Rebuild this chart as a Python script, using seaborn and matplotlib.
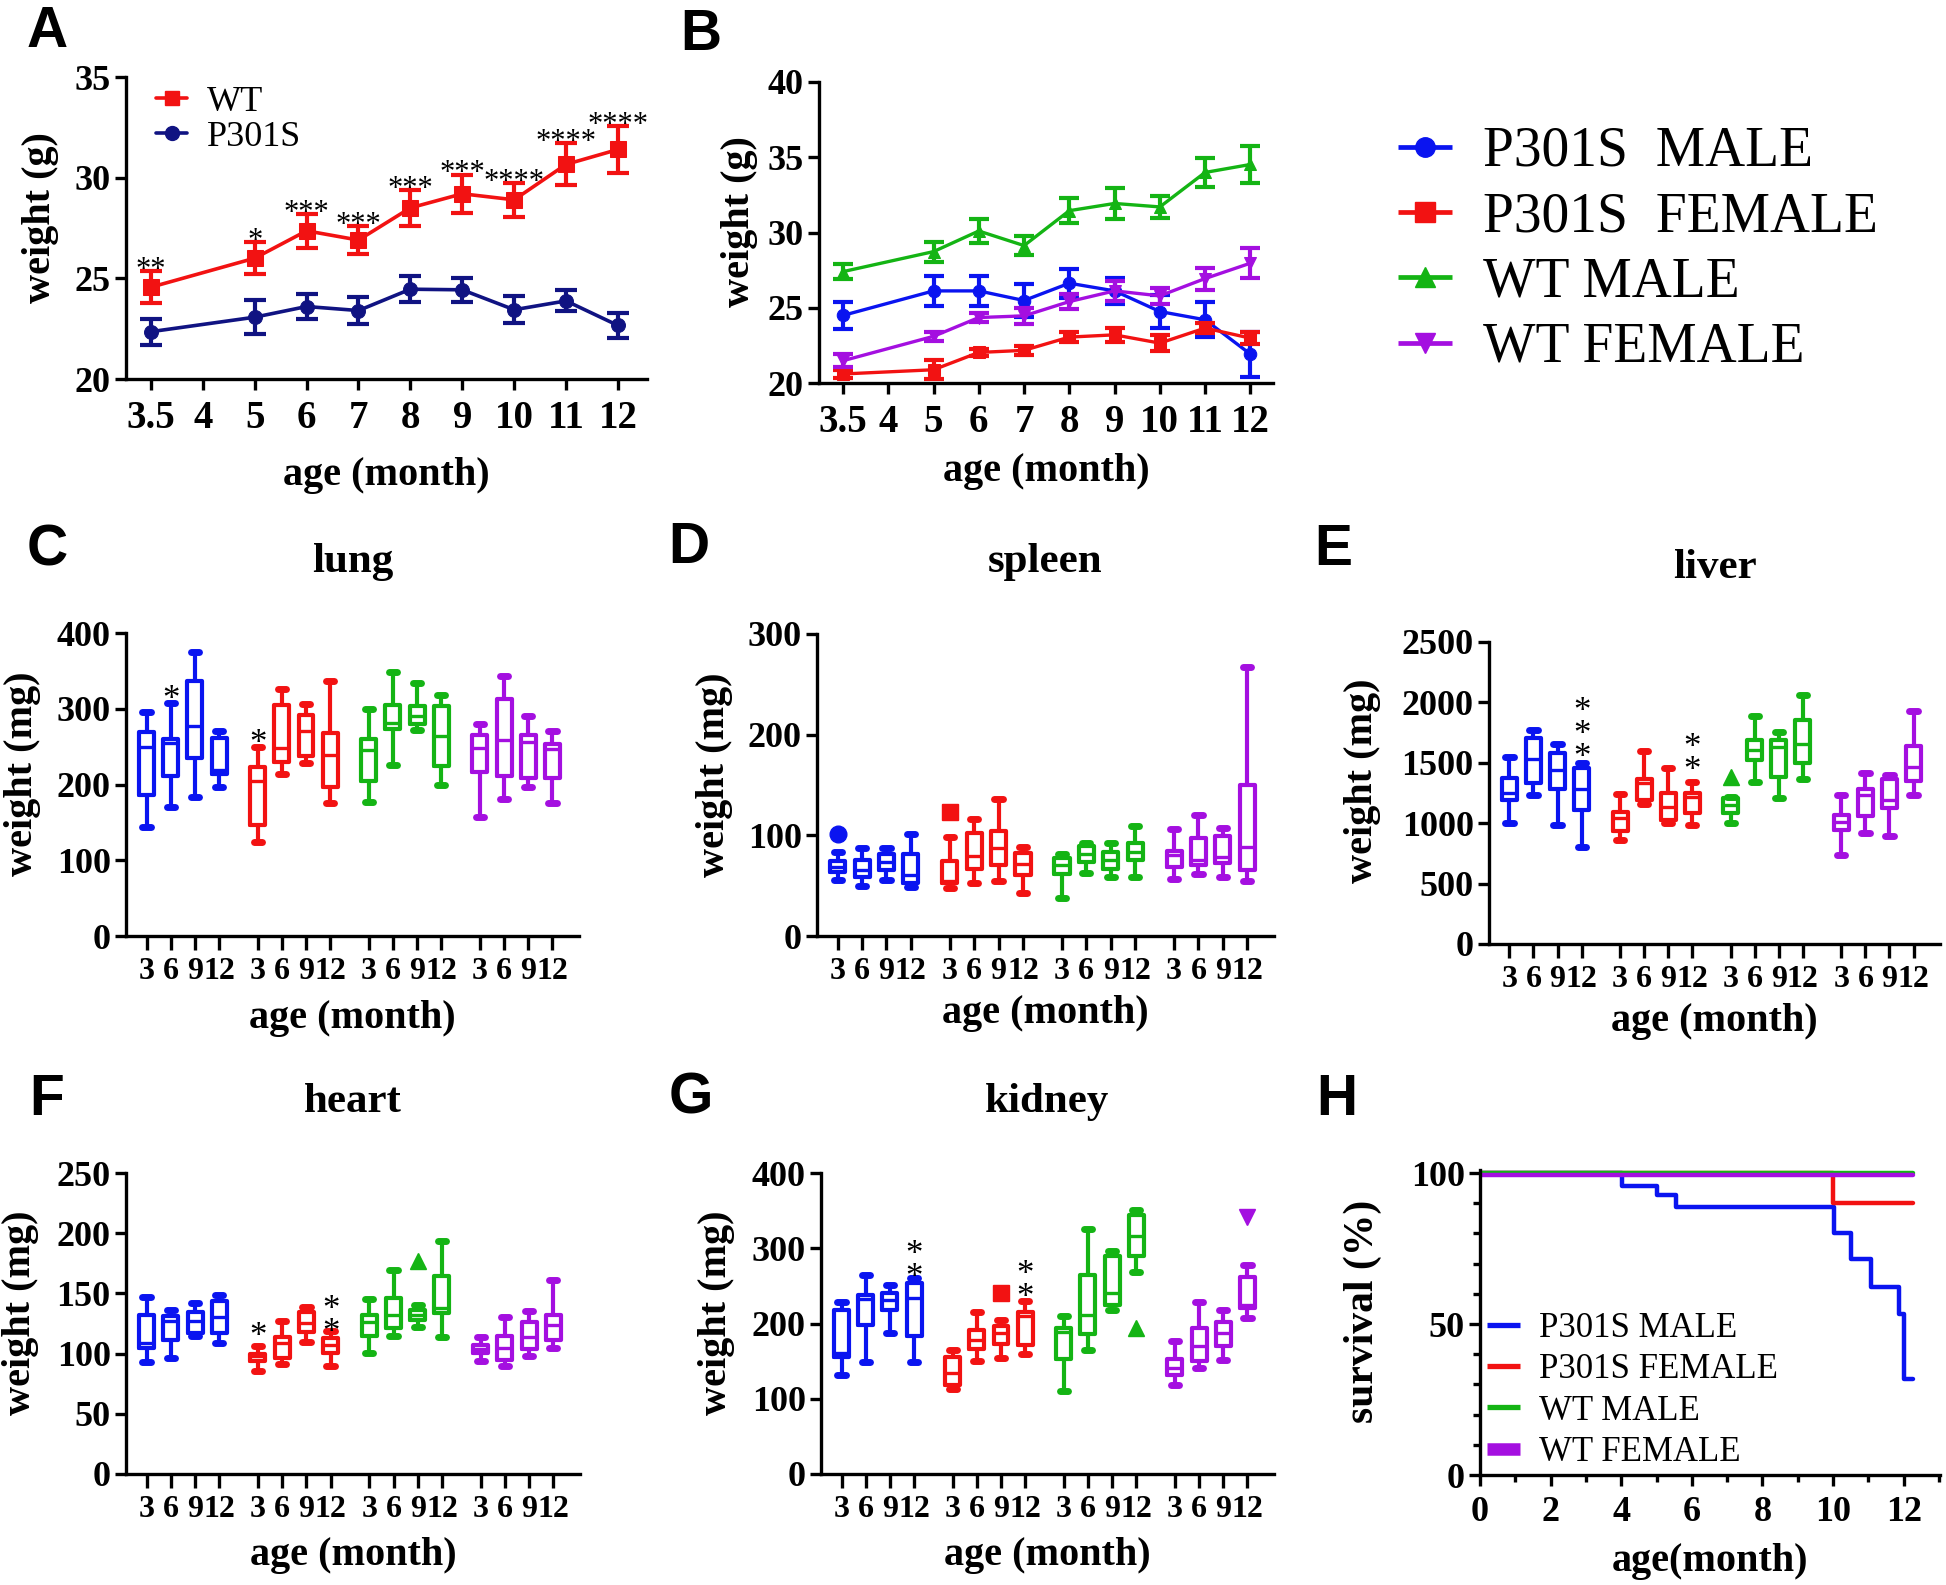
import numpy as np
import pandas as pd
import matplotlib
matplotlib.use("Agg")
import matplotlib.pyplot as plt
from matplotlib import transforms
from matplotlib.lines import Line2D
from matplotlib.ticker import MultipleLocator
import seaborn as sns

# ---------------- data ----------------
# Panel A / B : body weight (mean +/- SEM)
time_labels = ['3.5', '4', '5', '6', '7', '8', '9', '10', '11', '12']
months = ['3.5', '5', '6', '7', '8', '9', '10', '11', '12']

wt_mean = [24.56, 26.0, 27.36, 26.9, 28.5, 29.2, 28.9, 30.66, 31.4]
wt_sem = [0.78, 0.8, 0.84, 0.7, 0.9, 0.95, 0.85, 1.04, 1.16]
p301s_mean = [22.35, 23.07, 23.6, 23.4, 24.46, 24.43, 23.44, 23.88, 22.66]
p301s_sem = [0.65, 0.83, 0.6, 0.67, 0.64, 0.61, 0.66, 0.52, 0.64]
wt_stars = ['**', '*', '***', '***', '***', '***', '****', '****', '****']

groups = ['P301S  MALE', 'P301S  FEMALE', 'WT MALE', 'WT FEMALE']
b_p301s_male = [24.49, 26.12, 26.12, 25.48, 26.63, 26.12, 24.75, 24.2, 21.92]
b_p301s_male_sem = [0.88, 1.02, 0.98, 1.11, 0.97, 0.88, 1.11, 1.15, 1.5]
b_p301s_female = [20.6, 20.88, 22.03, 22.17, 23.05, 23.2, 22.65, 23.65, 22.98]
b_p301s_female_sem = [0.28, 0.62, 0.22, 0.31, 0.33, 0.45, 0.55, 0.35, 0.42]
b_wt_male = [27.4, 28.73, 30.1, 29.13, 31.45, 31.93, 31.7, 33.99, 34.52]
b_wt_male_sem = [0.5, 0.67, 0.8, 0.64, 0.82, 1.0, 0.74, 0.99, 1.21]
b_wt_female = [21.48, 23.1, 24.35, 24.46, 25.41, 26.12, 25.79, 26.94, 27.96]
b_wt_female_sem = [0.42, 0.3, 0.29, 0.51, 0.49, 0.68, 0.55, 0.73, 0.99]

# Panels C-G : organ weights (whisker low, Q1, median, Q3, whisker high) at 3, 6, 9, 12 months
organ_ages = ['3', '6', '9', '12']
lung = {
    'P301S  MALE':   [(144.5, 186, 249, 269, 295.6), (170, 211.5, 254.6, 259.5, 307), (184, 235, 277.5, 336.6, 375), (197, 213.7, 219, 260.8, 270)],
    'P301S  FEMALE': [(124.7, 146.7, 204, 223, 250), (214, 230, 248, 305, 326), (228, 238, 270, 292, 306), (175, 196.5, 239, 268, 337)],
    'WT MALE':       [(177.5, 205, 246, 260, 299.6), (226, 273, 281, 305, 348), (272, 280, 290, 303, 334), (199.6, 223.8, 264, 304, 317.6)],
    'WT FEMALE':     [(157, 217, 247.6, 264.7, 280), (180.6, 211.5, 259, 312.8, 342.7), (197, 208, 255.5, 264.7, 290), (175, 209, 247, 253, 271)],
}
spleen = {
    'P301S  MALE':   [(55.6, 64, 69, 74.5, 83), (50, 59, 65.6, 75.5, 87), (55.6, 65.6, 74, 81, 87.7), (49, 52.3, 60.6, 81, 101)],
    'P301S  FEMALE': [(47.4, 52.3, 55, 74.5, 98), (53, 67, 79, 102, 116), (55, 70.5, 87, 104, 136), (43, 61, 72, 82, 88.7)],
    'WT MALE':       [(37.4, 62, 70.5, 77, 81), (63, 74, 81, 89.4, 92), (59, 66.6, 75.5, 83.8, 92.7), (59, 75.5, 83.8, 92, 109)],
    'WT FEMALE':     [(56.6, 69, 80.5, 84.4, 106), (61.6, 70.5, 75.5, 97.7, 120.5), (59, 73, 78.8, 99.3, 107.6), (55, 66, 88.7, 150, 267.5)],
}
liver = {
    'P301S  MALE':   [(998, 1191, 1251, 1375, 1549), (1232, 1334, 1535, 1709, 1770), (984, 1279, 1444, 1577, 1659), (805, 1108, 1279, 1458, 1499)],
    'P301S  FEMALE': [(865, 937, 1039, 1094, 1240), (1163, 1196, 1329, 1370, 1599), (1003, 1025, 1136, 1251, 1458), (984, 1086, 1213, 1251, 1342)],
    'WT MALE':       [(1003, 1086, 1149, 1205, 1218), (1342, 1527, 1604, 1692, 1885), (1205, 1384, 1632, 1687, 1756), (1370, 1499, 1654, 1852, 2064)],
    'WT FEMALE':     [(736, 943, 1012, 1067, 1232), (915, 1058, 1232, 1287, 1417), (893, 1122, 1196, 1362, 1397), (1232, 1348, 1466, 1640, 1927)],
}
heart = {
    'P301S  MALE':   [(92.7, 104.6, 108.8, 131.8, 146.7), (96.3, 111.6, 127.4, 131, 136.5), (114.3, 117, 126.8, 134.5, 142), (108.8, 117, 130.4, 144, 149)],
    'P301S  FEMALE': [(85.3, 94, 97.7, 100, 106), (91.6, 96.3, 108.8, 113.5, 126.8), (109.4, 117.7, 125.4, 134.5, 139), (90, 100.5, 107.4, 113, 118.5)],
    'WT MALE':       [(100.5, 115, 126, 132.3, 145.6), (115, 121.3, 132.3, 146.2, 169.2), (121.8, 127.6, 132.3, 136, 140), (113.8, 133.7, 137.9, 164.7, 193.8)],
    'WT FEMALE':     [(93.6, 100.5, 103.8, 107.4, 113.5), (90, 95, 104.6, 114.3, 130.4), (98.3, 103.8, 113.5, 126, 135), (104.6, 111.6, 123.5, 131.8, 160.9)],
}
kidney = {
    'P301S  MALE':   [(132, 155, 160.8, 217.5, 228), (148.4, 198.5, 233, 238.3, 265), (187.4, 217.5, 231.7, 240.5, 251.6), (148.4, 183.8, 233.9, 253.8, 260.5)],
    'P301S  FEMALE': [(113, 118.7, 134.2, 155, 165), (149.7, 166, 178.5, 191.8, 214.8), (154, 172.8, 187.4, 196.2, 205), (160, 171.9, 209.5, 215.3, 229.5)],
    'WT MALE':       [(110.7, 153.3, 188.3, 194, 209.5), (165, 186, 211.7, 265, 325.6), (217.5, 225, 240.5, 290, 296), (268, 289.3, 315.8, 343.7, 351.3)],
    'WT FEMALE':     [(118.7, 132, 140.9, 153.3, 177), (140.9, 149.7, 169.7, 194, 228), (152, 170.5, 187.4, 202, 218.4), (207.3, 220.6, 225, 261.3, 277.3)],
}
# outliers: (group, age index, value)
lung_out = []
spleen_out = [('P301S  MALE', 0, 101), ('P301S  FEMALE', 0, 123.5)]
liver_out = [('WT MALE', 0, 1384)]
heart_out = [('WT MALE', 2, 177)]
kidney_out = [('P301S  FEMALE', 2, 240.5), ('WT MALE', 3, 194), ('WT FEMALE', 3, 341.5)]
# significance stars: (group, age index, value of each stacked star)
lung_stars = [('P301S  MALE', 1, 322), ('P301S  FEMALE', 0, 264)]
spleen_stars = []
liver_stars = [('P301S  MALE', 3, 1990), ('P301S  MALE', 3, 1803), ('P301S  MALE', 3, 1618),
               ('P301S  FEMALE', 3, 1692), ('P301S  FEMALE', 3, 1516)]
heart_stars = [('P301S  FEMALE', 0, 120.4), ('P301S  FEMALE', 3, 142.6), ('P301S  FEMALE', 3, 125.4)]
kidney_stars = [('P301S  MALE', 3, 301.7), ('P301S  MALE', 3, 273.7),
                ('P301S  FEMALE', 3, 275), ('P301S  FEMALE', 3, 247)]

# Panel H : survival
surv_t_p301s_male = [0, 4.02, 5.01, 5.56, 10.02, 10.52, 11.07, 11.86, 12.0, 12.27]
surv_p301s_male = [100, 95.8, 92.6, 88.85, 80.0, 71.4, 62.3, 53.3, 31.9, 31.9]
surv_t_p301s_female = [0, 10.0, 12.27]
surv_p301s_female = [100, 90.2, 90.2]
surv_t_wt_male = [0, 12.27]
surv_wt_male = [100, 100]
surv_t_wt_female = [0, 12.27]
surv_wt_female = [99.2, 99.2]

# ---------------- style ----------------
sns.set_style('ticks')
plt.rcParams['font.family'] = ['Liberation Serif', 'DejaVu Serif']
plt.rcParams['font.weight'] = 'bold'
plt.rcParams['axes.labelweight'] = 'bold'
plt.rcParams['axes.titleweight'] = 'bold'
for k in ['axes.edgecolor', 'axes.labelcolor', 'text.color', 'xtick.color', 'ytick.color']:
    plt.rcParams[k] = 'black'
plt.rcParams['axes.linewidth'] = 2.4

colors = {'P301S  MALE': '#0a14f0', 'P301S  FEMALE': '#f21212', 'WT MALE': '#14b414', 'WT FEMALE': '#a40fe0'}
markers = {'P301S  MALE': 'o', 'P301S  FEMALE': 's', 'WT MALE': '^', 'WT FEMALE': 'v'}
RED_A = '#f21212'
NAVY_A = '#101382'
SERIF = ['Liberation Serif', 'DejaVu Serif']

W, H = 1946, 1585
fig = plt.figure(figsize=(W / 100, H / 100), dpi=100)


def add_ax(l, t, r, b):
    return fig.add_axes([l / W, 1 - b / H, (r - l) / W, (b - t) / H])


def style_ax(ax, xls=23, yls=26):
    sns.despine(ax=ax)
    ax.tick_params(axis='both', which='major', direction='out', length=8, width=2.4)
    ax.tick_params(axis='x', labelsize=xls, pad=5)
    ax.tick_params(axis='y', labelsize=yls, pad=3)


def labels(ax, xlabel, ylabel, xl_y, yl_x, yl_y=0.535, xsize=29, ysize=29):
    ax.set_xlabel(xlabel, fontsize=xsize)
    ax.set_ylabel(ylabel, fontsize=ysize)
    ax.xaxis.set_label_coords(0.5, xl_y)
    ax.yaxis.set_label_coords(yl_x, yl_y)


def star(ax, x, y, fs, s='*'):
    # (x, y) is the centre of the star glyph, which sits ~0.5 em above the baseline
    tr = transforms.offset_copy(ax.transData, fig=fig, y=-0.5 * fs, units='points')
    ax.text(x, y, s, transform=tr, ha='center', va='baseline', fontsize=fs,
            fontweight='normal', family=SERIF)


def star_stack(ax, x, values, fs):
    # a vertical stack of stars drawn as one multi-line text, centred on the stars' mean value;
    # the glyphs sit ~0.27 em above the centre of the text box
    tr = transforms.offset_copy(ax.transData, fig=fig, y=-0.27 * fs, units='points')
    ax.text(x, float(np.mean(values)), '\n'.join(['*'] * len(values)), transform=tr,
            ha='center', va='center', fontsize=fs, linespacing=0.6,
            fontweight='normal', family=SERIF)


def letter(x, y, s):
    fig.text(x / W, 1 - y / H, s, fontsize=41, fontweight='bold',
             family=['Liberation Sans', 'DejaVu Sans'], ha='left', va='baseline')


# ---------------- Panel A ----------------
axA = add_ax(126, 77, 647, 379)
xA = [time_labels.index(m) for m in months]
for mean, sem, c, mk, ms in [(wt_mean, wt_sem, RED_A, 's', 11), (p301s_mean, p301s_sem, NAVY_A, 'o', 10)]:
    sns.lineplot(x=xA, y=mean, color=c, marker=mk, markersize=ms, markeredgecolor=c,
                 lw=2.6, ax=axA, estimator=None)
    axA.errorbar(xA, mean, yerr=sem, fmt='none', ecolor=c, elinewidth=3, capsize=8, capthick=3)
for xi, m, s, st in zip(xA, wt_mean, wt_sem, wt_stars):
    star(axA, xi, m + s + 0.42, 22, s=st)
axA.set_xlim(-0.48, 9.56)
axA.set_ylim(20, 35)
axA.set_yticks([20, 25, 30, 35])
axA.set_xticks(range(len(time_labels)))
axA.set_xticklabels(time_labels)
style_ax(axA, xls=28, yls=26)
axA.tick_params(axis='x', pad=7)
labels(axA, 'age (month)', 'weight (g)', -0.258, -0.129, 0.533)
hA = [Line2D([], [], color=RED_A, marker='s', lw=2.6, ms=10),
      Line2D([], [], color=NAVY_A, marker='o', lw=2.6, ms=10)]
legA = axA.legend(hA, ['WT', 'P301S'], loc='upper left', bbox_to_anchor=(0.058, 0.972), frameon=False,
                  prop={'family': SERIF, 'weight': 'normal', 'size': 26},
                  handlelength=0.85, handletextpad=0.55, labelspacing=0.05, borderpad=0.0,
                  borderaxespad=0.0)

# ---------------- Panel B ----------------
axB = add_ax(819, 82, 1273, 383)
b_series = [(b_p301s_male, b_p301s_male_sem), (b_p301s_female, b_p301s_female_sem),
            (b_wt_male, b_wt_male_sem), (b_wt_female, b_wt_female_sem)]
for g, (mean, sem) in zip(groups, b_series):
    c = colors[g]
    sns.lineplot(x=xA, y=mean, color=c, marker=markers[g], markersize=9, markeredgecolor=c,
                 lw=2.4, ax=axB, estimator=None)
    axB.errorbar(xA, mean, yerr=sem, fmt='none', ecolor=c, elinewidth=3, capsize=7, capthick=3)
axB.set_xlim(-0.53, 9.5)
axB.set_ylim(20, 40)
axB.set_yticks([20, 25, 30, 35, 40])
axB.set_xticks(range(len(time_labels)))
axB.set_xticklabels(time_labels)
style_ax(axB, xls=28, yls=26)
axB.tick_params(axis='x', pad=7)
labels(axB, 'age (month)', 'weight (g)', -0.233, -0.134, 0.535)
hB = [Line2D([], [], color=colors[g], marker=markers[g], lw=3.4, ms=14, solid_capstyle='butt') for g in groups]
legB = fig.legend(hB, groups, loc='upper left', bbox_to_anchor=(1398 / W, 1 - 126 / H), frameon=False,
                  prop={'family': SERIF, 'weight': 'normal', 'size': 40},
                  handlelength=0.97, handletextpad=0.56, labelspacing=0.24, borderpad=0.0,
                  borderaxespad=0.0)

# ---------------- Panels C-G ----------------
GAP = 4.6


def box_panel(ax, data, outs, stars, ymax, ystep, title, title_y, xl_y, yl_x, yl_y=0.535):
    ticks, ticklabels = [], []
    for gi, g in enumerate(groups):
        c = colors[g]
        stats = []
        pos = []
        for ai, (lo, q1, med, q3, hi) in enumerate(data[g]):
            fl = [v for (gg, aa, v) in outs if gg == g and aa == ai]
            stats.append(dict(whislo=lo, q1=q1, med=med, q3=q3, whishi=hi, fliers=fl))
            pos.append(gi * GAP + ai)
        ax.bxp(stats, positions=pos, widths=0.62, showfliers=True, manage_ticks=False,
               boxprops=dict(color=c, lw=3), whiskerprops=dict(color=c, lw=3),
               capprops=dict(color=c, lw=5), medianprops=dict(color=c, lw=2.4),
               capwidths=0.34,
               flierprops=dict(marker=markers[g], markerfacecolor=c, markeredgecolor=c,
                               markersize=12, linestyle='none'))
        ticks += pos
        ticklabels += organ_ages
    # group stacked stars per box
    keys = []
    for (g, ai, v) in stars:
        if (g, ai) not in keys:
            keys.append((g, ai))
    for (g, ai) in keys:
        vals = [v for (gg, aa, v) in stars if gg == g and aa == ai]
        xpos = groups.index(g) * GAP + ai
        if len(vals) == 1:
            star(ax, xpos, vals[0], 25)
        else:
            star_stack(ax, xpos, vals, 25)
    ax.set_xticks(ticks)
    ax.set_xticklabels(ticklabels)
    ax.set_xlim(-0.85, 3 * GAP + 3 + 1.1)
    ax.set_ylim(0, ymax)
    ax.set_yticks(np.arange(0, ymax + 1, ystep))
    style_ax(ax, xls=23, yls=26)
    ax.tick_params(axis='x', length=10)
    ax.set_title(title, fontsize=31, y=title_y, pad=0)
    labels(ax, 'age (month)', 'weight (mg)', xl_y, yl_x, yl_y)


axC = add_ax(126, 633, 579, 936)
box_panel(axC, lung, lung_out, lung_stars, 400, 100, 'lung', 1.201, -0.211, -0.187)
axD = add_ax(817, 634, 1274, 936)
box_panel(axD, spleen, spleen_out, spleen_stars, 300, 100, 'spleen', 1.205, -0.195, -0.183)
axE = add_ax(1489, 642, 1940, 944)
box_panel(axE, liver, liver_out, liver_stars, 2500, 500, 'liver', 1.212, -0.195, -0.239, 0.54)
axF = add_ax(126, 1173, 580, 1474)
box_panel(axF, heart, heart_out, heart_stars, 250, 50, 'heart', 1.203, -0.209, -0.191)
axG = add_ax(821, 1173, 1274, 1474)
box_panel(axG, kidney, kidney_out, kidney_stars, 400, 100, 'kidney', 1.203, -0.209, -0.189)

# ---------------- Panel H ----------------
axH = add_ax(1480, 1170, 1940, 1475)
h_series = [('P301S MALE', surv_t_p301s_male, surv_p301s_male, colors['P301S  MALE']),
            ('P301S FEMALE', surv_t_p301s_female, surv_p301s_female, colors['P301S  FEMALE']),
            ('WT MALE', surv_t_wt_male, surv_wt_male, colors['WT MALE']),
            ('WT FEMALE', surv_t_wt_female, surv_wt_female, colors['WT FEMALE'])]
for lab, t, s, c in h_series:
    sns.lineplot(x=t, y=s, color=c, lw=3.2, drawstyle='steps-post', ax=axH, estimator=None)
axH.set_xlim(0, 13.03)
axH.set_ylim(0, 101)
axH.set_xticks(range(0, 13, 2))
axH.set_yticks([0, 50, 100])
axH.xaxis.set_minor_locator(MultipleLocator(1))
axH.yaxis.set_minor_locator(MultipleLocator(10))
style_ax(axH, xls=26, yls=26)
axH.tick_params(axis='both', which='minor', direction='out', length=5, width=2.4)
axH.tick_params(axis='x', pad=7)
labels(axH, 'age(month)', 'survival (%)', -0.223, -0.213, 0.538, xsize=29, ysize=30)
hH = [Line2D([], [], color=c, lw=(9 if lab == 'WT FEMALE' else 3.8), solid_capstyle='butt')
      for lab, t, s, c in h_series]
legH = axH.legend(hH, [x[0] for x in h_series], loc='lower left', bbox_to_anchor=(0.015, 0.02), frameon=False,
                  prop={'family': SERIF, 'weight': 'normal', 'size': 25},
                  handlelength=0.95, handletextpad=0.55, labelspacing=0.24, borderpad=0.0,
                  borderaxespad=0.0)

# ---------------- panel letters ----------------
for x, y, s in [(27, 47, 'A'), (680, 50, 'B'), (27, 565, 'C'), (668, 563, 'D'), (1314, 565, 'E'),
                (29, 1115, 'F'), (669, 1113, 'G'), (1316, 1115, 'H')]:
    letter(x, y, s)

fig.savefig('out.png', dpi=100)
